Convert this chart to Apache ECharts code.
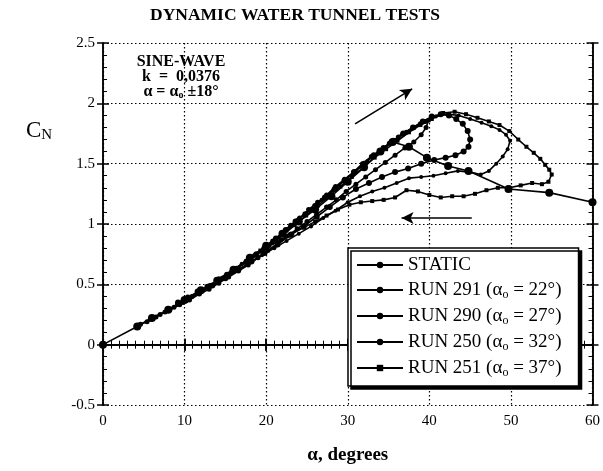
<!DOCTYPE html>
<html>
<head>
<meta charset="utf-8">
<script src="https://cdn.jsdelivr.net/npm/echarts@6/dist/echarts.min.js"></script>
<style>
html, body { margin: 0; padding: 0; background: #fff; }
#main { width: 603px; height: 471px; }
</style>
</head>
<body>
<div id="main"></div>
<script>
// angle of attack (deg) and normal force coefficient
const staticAlpha = [0, 4.2, 6, 8, 10, 12, 14, 16, 18, 20, 22, 24, 26, 28, 30, 32, 34, 35.5, 37.5, 39.7, 42.3, 44.8, 49.7, 54.7, 60]
const staticCN = [0, 0.15, 0.22, 0.29, 0.37, 0.45, 0.53, 0.62, 0.72, 0.82, 0.92, 1.02, 1.12, 1.23, 1.35, 1.47, 1.6, 1.68, 1.64, 1.55, 1.48, 1.44, 1.29, 1.26, 1.18]

const run291Alpha = [4.3, 5.4, 6.5, 7.6, 8.7, 9.8, 10.9, 12, 13.1, 14.2, 15.3, 16.4, 17.5, 18.6, 19.7, 20.8, 21.9, 23, 24.1, 25.2, 26.3, 27.4, 28.5, 29.6, 30.7, 31.8, 32.9, 34, 35.1, 36.2, 37.2, 38.1, 38.9, 39.5, 39.9,
  39.6, 39.0, 38.1, 37.0, 35.8, 34.6, 33.4, 32.2, 31.0, 29.8, 28.6, 27.4, 26.2, 25.0, 23.8, 22.6, 21.4, 20.2, 19.0, 17.8, 16.6, 15.4, 14.2, 13.0, 11.8, 10.6, 9.4, 8.2, 7.0, 5.8, 4.6]
const run291CN = [0.16, 0.19, 0.23, 0.27, 0.31, 0.35, 0.40, 0.44, 0.49, 0.53, 0.58, 0.63, 0.68, 0.74, 0.80, 0.86, 0.92, 0.99, 1.05, 1.12, 1.18, 1.24, 1.31, 1.37, 1.43, 1.50, 1.56, 1.61, 1.67, 1.72, 1.76, 1.80, 1.83, 1.85, 1.86,
  1.80, 1.74, 1.68, 1.63, 1.57, 1.51, 1.45, 1.39, 1.33, 1.27, 1.20, 1.14, 1.08, 1.02, 0.96, 0.90, 0.84, 0.78, 0.72, 0.66, 0.61, 0.56, 0.51, 0.46, 0.42, 0.37, 0.33, 0.29, 0.25, 0.21, 0.17]

const run290Alpha = [9.2, 10.4, 11.6, 12.8, 14, 15.2, 16.4, 17.6, 18.8, 20, 21.2, 22.4, 23.6, 24.8, 26, 27.2, 28.4, 29.6, 30.8, 32, 33.2, 34.4, 35.6, 36.8, 38, 39.2, 40.3, 41.4, 42.4, 43.3, 44.1, 44.7,
  45.0, 44.8, 44.2, 43.2, 42.0, 40.6, 39.0, 37.4, 35.8, 34.2, 32.6, 31.0, 29.4, 27.8, 26.2, 24.6, 23.0, 21.4, 19.8, 18.2, 16.6, 15.0, 13.4, 11.8, 10.2, 9.2]
const run290CN = [0.35, 0.39, 0.44, 0.48, 0.53, 0.58, 0.63, 0.69, 0.75, 0.81, 0.88, 0.95, 1.02, 1.08, 1.15, 1.22, 1.29, 1.36, 1.43, 1.50, 1.57, 1.63, 1.69, 1.75, 1.80, 1.85, 1.89, 1.91, 1.90, 1.87, 1.83, 1.77,
  1.70, 1.64, 1.60, 1.57, 1.55, 1.53, 1.50, 1.46, 1.43, 1.39, 1.34, 1.29, 1.22, 1.14, 1.06, 0.98, 0.91, 0.83, 0.76, 0.69, 0.62, 0.55, 0.49, 0.43, 0.37, 0.34]

const run250Alpha = [14.2, 15.6, 17, 18.4, 19.8, 21.2, 22.6, 24, 25.4, 26.8, 28.2, 29.6, 31, 32.4, 33.8, 35.2, 36.6, 38, 39.4, 40.8, 42.2, 43.6, 45, 46.4, 47.6, 48.6, 49.4, 49.9,
  49.6, 49.0, 48.2, 47.3, 46.3, 45.0, 43.5, 42.0, 40.5, 39.0, 37.5, 36.0, 34.5, 33.0, 31.5, 30.0, 28.5, 27.0, 25.5, 24.0, 22.5, 21.0, 19.5, 18.0, 16.5, 15.0, 14.2]
const run250CN = [0.55, 0.60, 0.67, 0.73, 0.80, 0.88, 0.96, 1.04, 1.12, 1.20, 1.28, 1.36, 1.44, 1.52, 1.60, 1.67, 1.74, 1.80, 1.85, 1.89, 1.91, 1.90, 1.87, 1.84, 1.81, 1.78, 1.74, 1.69,
  1.62, 1.56, 1.50, 1.44, 1.41, 1.43, 1.44, 1.42, 1.40, 1.39, 1.38, 1.34, 1.30, 1.27, 1.23, 1.18, 1.11, 1.05, 0.98, 0.92, 0.86, 0.80, 0.74, 0.68, 0.62, 0.57, 0.54]

const run251Alpha = [19.3, 20.7, 22.1, 23.5, 24.9, 26.3, 27.7, 29.1, 30.5, 31.9, 33.3, 34.7, 36.1, 37.5, 38.9, 40.3, 41.7, 43.1, 44.5, 45.9, 47.3, 48.6, 49.8, 50.9, 51.9, 52.8, 53.6, 54.2, 54.7, 55.0,
  54.6, 53.8, 52.6, 51.2, 49.8, 48.4, 47.0, 45.6, 44.2, 42.8, 41.4, 40.0, 38.6, 37.2, 35.8, 34.4, 33.0, 31.6, 30.2, 28.8, 27.4, 26.0, 24.6, 23.2, 21.8, 20.4, 19.3]
const run251CN = [0.77, 0.84, 0.91, 0.99, 1.07, 1.15, 1.23, 1.31, 1.39, 1.47, 1.55, 1.62, 1.69, 1.76, 1.82, 1.87, 1.92, 1.93, 1.91, 1.88, 1.85, 1.82, 1.77, 1.70, 1.64, 1.59, 1.54, 1.49, 1.45, 1.41,
  1.35, 1.33, 1.34, 1.32, 1.30, 1.30, 1.28, 1.25, 1.23, 1.23, 1.22, 1.24, 1.27, 1.28, 1.22, 1.20, 1.19, 1.18, 1.16, 1.12, 1.07, 1.02, 0.97, 0.92, 0.87, 0.82, 0.78]

const xTicks = [0, 10, 20, 30, 40, 50, 60]
const yTicks = [-0.5, 0, 0.5, 1, 1.5, 2, 2.5]

// arrows: [tail, head] in data coordinates
const upArrow = [[30.9, 1.83], [37.9, 2.12]]
const downArrow = [[45.2, 1.05], [36.6, 1.05]]

const serif = '"Liberation Serif", "DejaVu Serif", serif'
const black = '#000'

function pairs(a, c) {
  return a.map((x, i) => [x, c[i]])
}

const legendText = {
  'STATIC': 'STATIC',
  'RUN 291': 'RUN 291 (α{s|o} = 22°)',
  'RUN 290': 'RUN 290 (α{s|o} = 27°)',
  'RUN 250': 'RUN 250 (α{s|o} = 32°)',
  'RUN 251': 'RUN 251 (α{s|o} = 37°)'
}

function xAx(pos, inside, withMinor, extra) {
  return Object.assign({
    type: 'value', min: xTicks[0], max: xTicks[xTicks.length - 1], interval: 10,
    position: pos,
    axisLine: { show: true, lineStyle: { color: black, width: 1.5 } },
    axisTick: { show: true, inside: inside, length: 6, lineStyle: { color: black, width: 1.5 } },
    minorTick: { show: withMinor, splitNumber: 10, length: 4, lineStyle: { color: black, width: 1 } },
    axisLabel: { show: false },
    splitLine: { show: false }
  }, extra || {})
}

function yAx(pos, inside, withMinor, extra) {
  return Object.assign({
    type: 'value', min: yTicks[0], max: yTicks[yTicks.length - 1], interval: 0.5,
    position: pos,
    axisLine: { show: true, onZero: false, lineStyle: { color: black, width: 1.5 } },
    axisTick: { show: true, inside: inside, length: 6, lineStyle: { color: black, width: 1.5 } },
    minorTick: { show: withMinor, splitNumber: 5, length: 4, lineStyle: { color: black, width: 1 } },
    axisLabel: { show: false },
    splitLine: { show: false }
  }, extra || {})
}

function run(name, a, c, symbol, size, z) {
  return {
    name: name, type: 'line', data: pairs(a, c),
    xAxisIndex: 0, yAxisIndex: 0,
    symbol: symbol, symbolSize: size, showSymbol: true,
    lineStyle: { color: black, width: 1.6 },
    itemStyle: { color: black },
    animation: false, z: z
  }
}

const chart = echarts.init(document.getElementById('main'))

const staticSeries = run('STATIC', staticAlpha, staticCN, 'circle', 8, 6)
staticSeries.markLine = {
  silent: true, symbol: ['none', 'arrow'], symbolSize: [9, 12],
  lineStyle: { color: black, width: 1.6, type: 'solid' },
  label: { show: false },
  data: [
    [{ coord: upArrow[0] }, { coord: upArrow[1] }],
    [{ coord: downArrow[0] }, { coord: downArrow[1] }]
  ]
}

chart.setOption({
  backgroundColor: '#fff',
  animation: false,
  grid: { left: 103, right: 6, top: 43, bottom: 66 },
  xAxis: [
    xAx('bottom', false, false, {
      axisLabel: { show: true, margin: 9, color: black, fontFamily: serif, fontSize: 15 },
      splitLine: { show: true, lineStyle: { color: black, width: 1.2, type: [1.5, 2.5] } },
      name: 'α, degrees', nameLocation: 'middle', nameGap: 41,
      nameTextStyle: { color: black, fontFamily: serif, fontSize: 19, fontWeight: 'bold' }
    }),
    xAx('bottom', true, true),
    xAx('top', true, true),
    xAx('top', false, false)
  ],
  yAxis: [
    yAx('left', false, false, {
      axisLabel: { show: true, margin: 8, color: black, fontFamily: serif, fontSize: 15 },
      splitLine: { show: true, lineStyle: { color: black, width: 1.2, type: [1.5, 2.5] } }
    }),
    yAx('left', true, true),
    yAx('right', true, true),
    yAx('right', false, false)
  ],
  legend: {
    data: ['STATIC', 'RUN 291', 'RUN 290', 'RUN 250', 'RUN 251'],
    orient: 'vertical', left: 348, top: 248,
    padding: [7, 17, 7, 8], itemGap: 5, itemWidth: 46, itemHeight: 8,
    selectedMode: false,
    backgroundColor: '#fff', borderColor: black, borderWidth: 1.5, borderRadius: 0,
    shadowColor: black, shadowBlur: 0, shadowOffsetX: 3, shadowOffsetY: 3,
    formatter: function (name) { return legendText[name] },
    textStyle: {
      color: black, fontFamily: serif, fontSize: 19, lineHeight: 20,
      rich: { s: { fontFamily: serif, fontSize: 12, color: black, padding: [10, 0, 0, 0] } }
    }
  },
  graphic: [
    {
      type: 'text', x: 295, y: 6,
      style: { text: 'DYNAMIC WATER TUNNEL TESTS', fill: black, font: 'bold 17.5px ' + serif, textAlign: 'center' }
    },
    {
      type: 'text', x: 181, y: 54,
      style: {
        text: 'SINE-WAVE\nk  =  0,0376\nα = α{s|o} ±18°',
        fill: black, font: 'bold 16px ' + serif, textAlign: 'center', lineHeight: 15,
        rich: { s: { font: 'bold 10px ' + serif, fill: black, padding: [8, 0, 0, 0] } }
      }
    },
    {
      type: 'text', x: 26, y: 118,
      style: {
        text: 'C{n|N}', fill: black, font: '23px ' + serif,
        rich: { n: { font: '15px ' + serif, fill: black, padding: [10, 0, 0, 0] } }
      }
    }
  ],
  series: [
    run('RUN 291', run291Alpha, run291CN, 'circle', 5, 2),
    run('RUN 290', run290Alpha, run290CN, 'circle', 6, 3),
    run('RUN 250', run250Alpha, run250CN, 'circle', 4, 4),
    run('RUN 251', run251Alpha, run251CN, 'rect', 4, 5),
    staticSeries
  ]
})
</script>
</body>
</html>
